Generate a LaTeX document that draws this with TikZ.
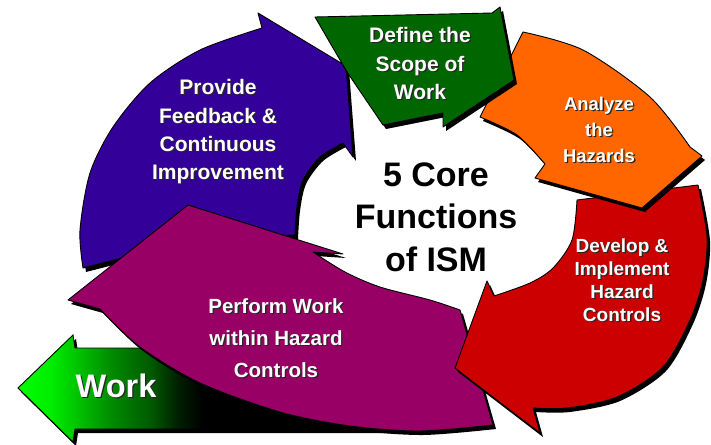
\documentclass[tikz,border=0pt]{standalone}
\usepackage{fontspec}
\setmainfont{Liberation Sans}
\definecolor{cpurple}{RGB}{51,0,153}
\definecolor{cmagenta}{RGB}{153,0,102}
\definecolor{cred}{RGB}{204,0,0}
\definecolor{corange}{RGB}{255,102,0}
\definecolor{cgreen}{RGB}{0,102,0}
\definecolor{wgA}{RGB}{0,255,0}
\definecolor{wgB}{RGB}{0,238,0}
\definecolor{wgC}{RGB}{0,200,0}
\definecolor{wgD}{RGB}{0,140,0}
\definecolor{wgE}{RGB}{0,90,0}
\definecolor{wgF}{RGB}{0,30,0}
\pgfdeclarehorizontalshading{workshade}{100bp}{color(0bp)=(wgA); color(25bp)=(wgA); color(29bp)=(wgB); color(32bp)=(wgC); color(36.5bp)=(wgD); color(41.5bp)=(wgE); color(45bp)=(wgF); color(48bp)=(black); color(100bp)=(black)}
\tikzset{
  shadowfill/.style={fill=black, shift={(3,4)}},
  arrowfill/.style={draw=black, line width=0.9pt, line join=round},
  lblw/.style={text=white, font=\bfseries, inner sep=0pt},
  lbls/.style={text=black!85, font=\bfseries, inner sep=0pt},
  fA/.style={font=\bfseries\fontsize{21}{25}\selectfont},
  fB/.style={font=\bfseries\fontsize{18.5}{22}\selectfont},
  fC/.style={font=\bfseries\fontsize{19}{22}\selectfont},
  fD/.style={font=\bfseries\fontsize{20.5}{24}\selectfont},
  fE/.style={font=\bfseries\fontsize{32.5}{36}\selectfont},
  ctext/.style={text=black, font=\bfseries\fontsize{34}{40}\selectfont, inner sep=0pt, anchor=base},
}
\newcommand\wlbl[5]{%
  \node[lbls,#4,anchor=base,xshift=1.3pt,yshift=-1.3pt] (#1s) at (#2,#3) {#5};
  \node[lblw,#4,anchor=base] (#1) at (#2,#3) {#5};}
\def\workpath{(18,388) -- (73,335) -- (75,348) -- (420,348) -- (420,429) -- (75,429) -- (73,442) -- cycle}
\def\purplepath{(83,268) -- plot[smooth] coordinates {(83,268) (80,230) (90,173) (113,127) (150,83) (200,50) (262,28)} -- (258,13) -- (346,66) -- (353,157) -- (343,143) -- plot[smooth] coordinates {(343,143) (320,157) (303,180) (297,207) (295,235)} -- (200,238) -- cycle}
\def\magentapath{(188,205) -- (343,254) -- (313,252) -- plot[smooth] coordinates {(313,252) (345,272) (380,287) (430,300) (460,310)} -- (493,425) -- plot[smooth] coordinates {(493,425) (420,431) (350,426) (280,412) (200,383) (140,347) (100,309)} -- (68,300) -- cycle}
\def\redpath{(577,200) -- (698,185) -- plot[smooth] coordinates {(698,185) (707,237) (703,280) (690,320) (663,367) (617,397) (567,408) (533,408)} -- (540,433) -- (455,368) -- (487,281) -- (494,296) -- plot[smooth] coordinates {(494,296) (530,283) (553,268) (572,240) (577,200)} -- cycle}
\def\orangepath{(523,32) -- plot[smooth] coordinates {(523,32) (583,50) (650,97) (690,147)} -- (702,156) -- (642,208) -- (535,178) -- (545,164) -- plot[smooth] coordinates {(545,164) (517,135) (480,117)} -- cycle}
\def\greenpath{(315,17) -- (492,13) -- (500,7) -- (514,80) -- (443,127) -- (443,113) -- (383,125) -- (347,72) -- cycle}
\begin{document}
\begin{tikzpicture}[x=1pt,y=-1pt]
\useasboundingbox (0,0) rectangle (711,444);
\fill[white] (0,0) rectangle (711,444);
% Work arrow
\fill[shadowfill] \workpath;
\shade[shading=workshade] \workpath;
\draw[black, line width=0.9pt] \workpath;
% purple
\fill[shadowfill] \purplepath;
\filldraw[arrowfill, fill=cpurple] \purplepath;
% magenta
\fill[shadowfill] \magentapath;
\filldraw[arrowfill, fill=cmagenta] \magentapath;
% red
\fill[shadowfill] \redpath;
\filldraw[arrowfill, fill=cred] \redpath;
% orange
\fill[shadowfill] \orangepath;
\filldraw[arrowfill, fill=corange] \orangepath;
% green
\fill[shadowfill] \greenpath;
\filldraw[arrowfill, fill=cgreen] \greenpath;
% labels
\wlbl{pv1}{218}{94}{fA}{Provide}
\wlbl{pv2}{218}{123}{fA}{Feedback \&}
\wlbl{pv3}{218}{151}{fA}{Continuous}
\wlbl{pv4}{218}{179}{fA}{Improvement}
\wlbl{df1}{420}{42}{fA}{Define the}
\wlbl{df2}{420}{71}{fA}{Scope of}
\wlbl{df3}{420}{99}{fA}{Work}
\wlbl{an1}{599}{110}{fB}{Analyze}
\wlbl{an2}{599}{136}{fB}{the}
\wlbl{an3}{599}{162}{fB}{Hazards}
\wlbl{dv1}{622}{252}{fC}{Develop \&}
\wlbl{dv2}{622}{275}{fC}{Implement}
\wlbl{dv3}{622}{298}{fC}{Hazard}
\wlbl{dv4}{622}{321}{fC}{Controls}
\wlbl{pf1}{276}{313}{fD}{Perform Work}
\wlbl{pf2}{276}{345}{fD}{within Hazard}
\wlbl{pf3}{276}{377}{fD}{Controls}
\wlbl{wk}{116}{397}{fE}{Work}
\node[ctext] (c1) at (436,186) {5 Core};
\node[ctext] (c2) at (436,228) {Functions};
\node[ctext] (c3) at (436,271) {of ISM};
\end{tikzpicture}
\end{document}
